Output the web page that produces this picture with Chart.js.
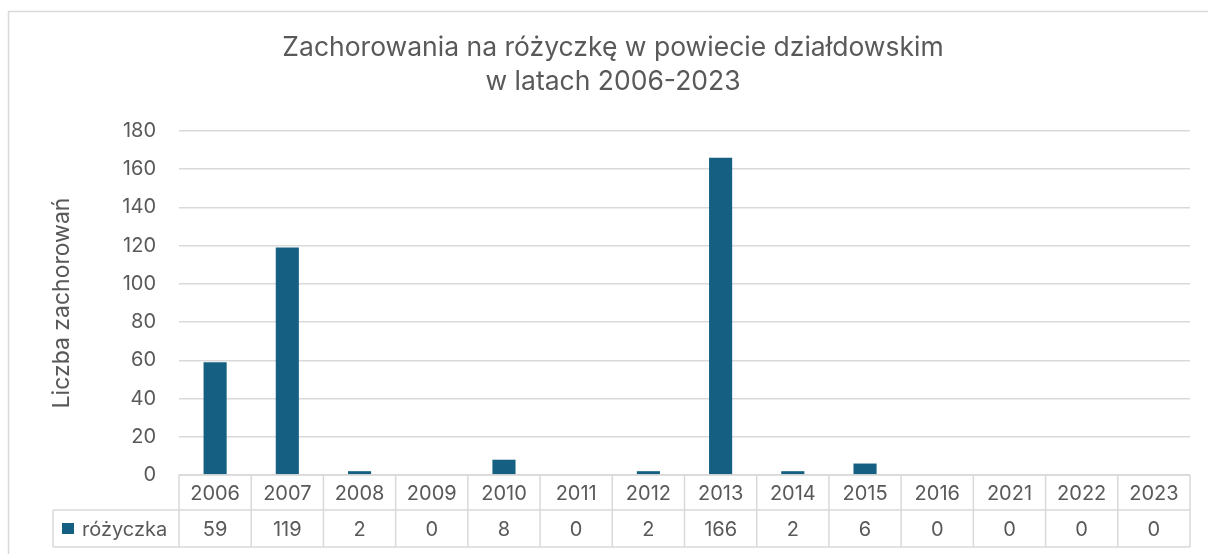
<!DOCTYPE html>
<html>
<head>
<meta charset="utf-8">
<script src="https://cdn.jsdelivr.net/npm/chart.js@4"></script>
<style>
  html, body { margin: 0; padding: 0; background: #fff; }
  #wrap { width: 1208px; height: 554px; }
</style>
</head>
<body>
<div id="wrap"><canvas id="chart" width="1208" height="554"></canvas></div>
<script>
// dane z wykresu
const lata = ['2006', '2007', '2008', '2009', '2010', '2011', '2012', '2013', '2014', '2015', '2016', '2021', '2022', '2023'];
const rozyczka = [59, 119, 2, 0, 8, 0, 2, 166, 2, 6, 0, 0, 0, 0];
const nazwaSerii = 'różyczka';
const tytul = ['Zachorowania na różyczkę w powiecie działdowskim', 'w latach 2006-2023'];

const kolorSlupka = '#156082';
const kolorTekstu = '#595959';
const kolorLinii = '#d9d9d9';
const czcionka = 'Inter, "Open Sans", sans-serif';

// ramka, tytuł i tabela danych pod osią
const tabelaDanych = {
  id: 'tabelaDanych',
  beforeDraw(chart) {
    const ctx = chart.ctx;
    ctx.save();
    ctx.strokeStyle = kolorLinii;
    ctx.lineWidth = 1.5;
    ctx.strokeRect(8.5, 11.5, 1220, 560);

    // tytuł wyśrodkowany na całym obrazku
    ctx.fillStyle = kolorTekstu;
    ctx.font = '26.5px ' + czcionka;
    ctx.textAlign = 'center';
    ctx.textBaseline = 'middle';
    tytul.forEach((linia, i) => ctx.fillText(linia, 613, 48 + i * 34));
    ctx.restore();
  },
  afterDraw(chart) {
    const ctx = chart.ctx;
    const x = chart.scales.x;
    const area = chart.chartArea;
    const w = (area.right - area.left) / lata.length;
    const r1 = area.bottom, r2 = r1 + 35, r3 = r2 + 37;
    const lewo = 53;

    ctx.save();
    ctx.strokeStyle = kolorLinii;
    ctx.lineWidth = 1.5;
    ctx.beginPath();
    // poziome linie
    ctx.moveTo(area.left, r1); ctx.lineTo(area.right, r1);
    ctx.moveTo(lewo, r2); ctx.lineTo(area.right, r2);
    ctx.moveTo(lewo, r3); ctx.lineTo(area.right, r3);
    // pionowe linie
    ctx.moveTo(lewo, r2); ctx.lineTo(lewo, r3);
    for (let i = 0; i <= lata.length; i++) {
      const px = area.left + i * w;
      ctx.moveTo(px, r1); ctx.lineTo(px, r3);
    }
    ctx.stroke();

    ctx.fillStyle = kolorTekstu;
    ctx.font = '20px ' + czcionka;
    ctx.textAlign = 'center';
    ctx.textBaseline = 'middle';
    lata.forEach((rok, i) => {
      const px = x.getPixelForValue(i);
      ctx.fillText(rok, px, (r1 + r2) / 2 + 1);
      ctx.fillText(String(rozyczka[i]), px, (r2 + r3) / 2 + 1);
    });

    // legenda w tabeli
    ctx.fillStyle = kolorSlupka;
    ctx.fillRect(62, 523, 12, 11);
    ctx.fillStyle = kolorTekstu;
    ctx.textAlign = 'left';
    ctx.fillText(nazwaSerii, 82, (r2 + r3) / 2 + 1);
    ctx.restore();
  }
};

new Chart(document.getElementById('chart'), {
  type: 'bar',
  data: {
    labels: lata,
    datasets: [{
      label: nazwaSerii,
      data: rozyczka,
      backgroundColor: kolorSlupka,
      barPercentage: 0.32,
      categoryPercentage: 1
    }]
  },
  options: {
    responsive: false,
    animation: false,
    layout: { padding: { top: 131, right: 18, bottom: 79, left: 0 } },
    plugins: {
      legend: { display: false },
      tooltip: { enabled: false },
      title: { display: false }
    },
    scales: {
      x: {
        display: false
      },
      y: {
        min: 0,
        max: 180,
        afterFit(scale) { scale.width = 179; },
        border: { display: false },
        grid: { color: kolorLinii, lineWidth: 1.5, drawTicks: false },
        ticks: {
          stepSize: 20,
          padding: 23,
          color: kolorTekstu,
          font: { family: czcionka, size: 20 }
        },
        title: {
          display: true,
          text: 'Liczba zachorowań',
          color: kolorTekstu,
          font: { family: czcionka, size: 23 },
          padding: { top: 48, bottom: 0 }
        }
      }
    }
  },
  plugins: [tabelaDanych]
});
</script>
</body>
</html>
